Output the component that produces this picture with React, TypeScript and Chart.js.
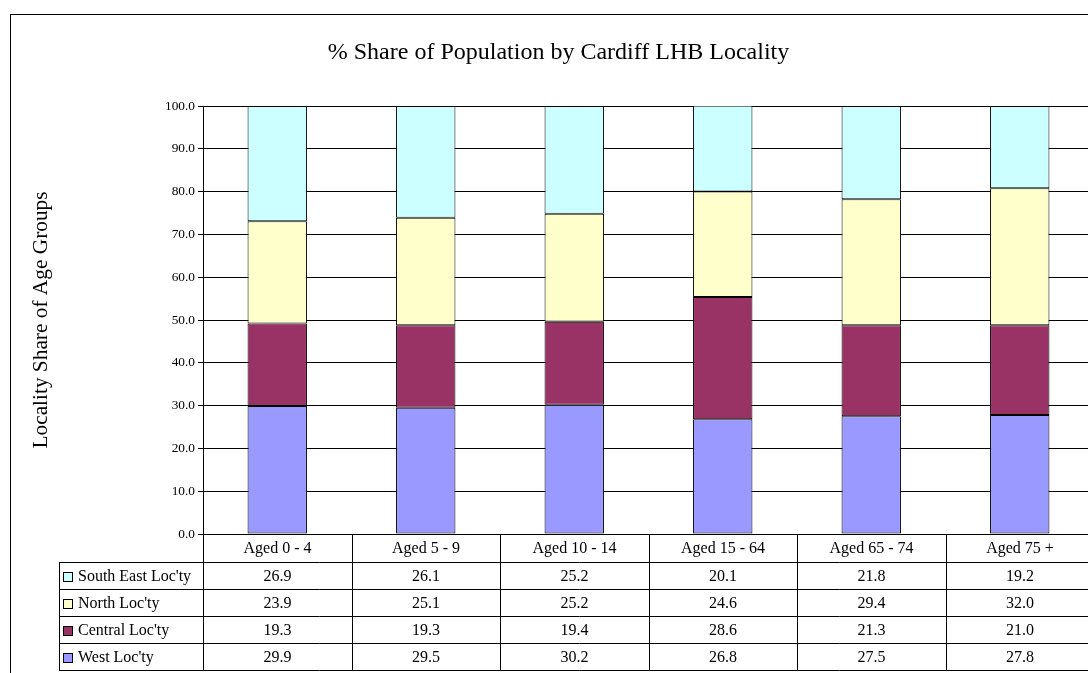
import React, { useEffect, useRef } from "react";
import { Chart, registerables } from "chart.js";

Chart.register(...registerables);

const categories = ["Aged 0 - 4", "Aged 5 - 9", "Aged 10 - 14", "Aged 15 - 64", "Aged 65 - 74", "Aged 75 +"];
const westValues = [29.9, 29.5, 30.2, 26.8, 27.5, 27.8];
const centralValues = [19.3, 19.3, 19.4, 28.6, 21.3, 21.0];
const northValues = [23.9, 25.1, 25.2, 24.6, 29.4, 32.0];
const southEastValues = [26.9, 26.1, 25.2, 20.1, 21.8, 19.2];
const seriesNames = ["West Loc'ty", "Central Loc'ty", "North Loc'ty", "South East Loc'ty"];
const seriesColors = ["#9999FF", "#993366", "#FFFFCC", "#CCFFFF"];
const seriesValues = [westValues, centralValues, northValues, southEastValues];
const chartTitle = "% Share of Population by Cardiff LHB Locality";
const yAxisTitle = "Locality Share of Age Groups";

const W = 1100;
const H = 680;
const FONT = "'Liberation Serif', 'Times New Roman', serif";

const tablePlugin = {
  id: "tablePlugin",
  beforeDraw(chart: any) {
    const ctx = chart.ctx;
    ctx.save();
    ctx.fillStyle = "#ffffff";
    ctx.fillRect(0, 0, chart.width, chart.height);
    ctx.restore();
  },
  afterDraw(chart: any) {
    const ctx = chart.ctx;
    const area = chart.chartArea;
    const n = categories.length;
    const cellW = (area.right - area.left) / n;
    const bounds: number[] = [];
    for (let i = 0; i <= n; i++) bounds.push(Math.round(area.left + i * cellW));
    const legendLeft = 59;
    const top = Math.round(area.bottom);
    const headerH = 28;
    const rowH = 27;
    const rowLines = [top, top + headerH];
    for (let r = 1; r <= seriesNames.length; r++) rowLines.push(top + headerH + r * rowH);
    const bottom = rowLines[rowLines.length - 1];

    ctx.save();
    // outer frame
    ctx.strokeStyle = "#000";
    ctx.lineWidth = 1;
    ctx.strokeRect(10.5, 14.5, 3000, 3000);

    // title
    ctx.fillStyle = "#000";
    ctx.font = `24px ${FONT}`;
    ctx.textAlign = "center";
    ctx.textBaseline = "alphabetic";
    ctx.fillText(chartTitle, 558.5, 59);

    // y axis title
    ctx.save();
    ctx.translate(41, (area.top + area.bottom) / 2);
    ctx.rotate(-Math.PI / 2);
    ctx.font = `21.33px ${FONT}`;
    ctx.textAlign = "center";
    ctx.textBaseline = "middle";
    ctx.fillText(yAxisTitle, 0, 0);
    ctx.restore();

    // table lines
    ctx.beginPath();
    for (let i = 1; i < rowLines.length; i++) {
      ctx.moveTo(legendLeft, rowLines[i] + 0.5);
      ctx.lineTo(chart.width, rowLines[i] + 0.5);
    }
    ctx.moveTo(legendLeft + 0.5, rowLines[1]);
    ctx.lineTo(legendLeft + 0.5, bottom + 1);
    for (let i = 0; i <= n; i++) {
      ctx.moveTo(bounds[i] + 0.5, top);
      ctx.lineTo(bounds[i] + 0.5, bottom + 1);
    }
    ctx.stroke();

    // header labels
    ctx.font = `16px ${FONT}`;
    ctx.textAlign = "center";
    ctx.textBaseline = "middle";
    for (let i = 0; i < n; i++) {
      const cx = (bounds[i] + bounds[i + 1]) / 2;
      ctx.fillText(categories[i], cx, (rowLines[0] + rowLines[1]) / 2 + 1);
    }

    // rows: top to bottom in reverse stacking order
    const order = [3, 2, 1, 0];
    order.forEach((s, r) => {
      const y0 = rowLines[r + 1];
      const y1 = rowLines[r + 2];
      const cy = (y0 + y1) / 2 + 1;
      // swatch
      ctx.fillStyle = seriesColors[s];
      ctx.fillRect(63, Math.round(cy - 5), 9, 9);
      ctx.strokeStyle = "#000";
      ctx.strokeRect(63.5, Math.round(cy - 5) + 0.5, 9, 9);
      ctx.fillStyle = "#000";
      ctx.textAlign = "left";
      ctx.fillText(seriesNames[s], 78, cy);
      ctx.textAlign = "center";
      for (let i = 0; i < n; i++) {
        const cx = (bounds[i] + bounds[i + 1]) / 2;
        ctx.fillText(seriesValues[s][i].toFixed(1), cx, cy);
      }
    });
    ctx.restore();
  },
};

export default function App() {
  const canvasRef = useRef<HTMLCanvasElement | null>(null);

  useEffect(() => {
    const canvas = canvasRef.current;
    if (!canvas) return;
    const chart = new Chart(canvas, {
      type: "bar",
      data: {
        labels: categories,
        datasets: seriesNames.map((name, s) => ({
          label: name,
          data: seriesValues[s],
          backgroundColor: seriesColors[s],
          borderColor: "#000",
          borderWidth: 1,
          borderSkipped: false,
          barPercentage: 0.4,
          categoryPercentage: 1,
        })),
      },
      options: {
        animation: false,
        responsive: false,
        devicePixelRatio: 1,
        layout: { padding: { left: 0, top: 106, right: W - 1094, bottom: H - 534 } },
        plugins: {
          legend: { display: false },
          title: { display: false },
          tooltip: { enabled: false },
        },
        scales: {
          x: {
            stacked: true,
            display: false,
          },
          y: {
            stacked: true,
            min: 0,
            max: 100,
            afterFit(scale: any) {
              scale.width = 203;
            },
            ticks: {
              stepSize: 10,
              color: "#000",
              padding: 3,
              font: { family: FONT, size: 13.33 },
              callback: (v: any) => Number(v).toFixed(1),
            },
            grid: {
              color: "#000",
              lineWidth: 1,
              drawTicks: true,
              tickLength: 5,
              tickColor: "#000",
            },
            border: { display: true, color: "#000", width: 1 },
          },
        },
      },
      plugins: [tablePlugin],
    } as any);
    return () => chart.destroy();
  }, []);

  return (
    <div style={{ position: "fixed", left: 0, top: 0, width: 1088, height: 673, overflow: "hidden", background: "#fff" }}>
      <canvas ref={canvasRef} width={W} height={H} style={{ width: W, height: H, display: "block" }} />
    </div>
  );
}
